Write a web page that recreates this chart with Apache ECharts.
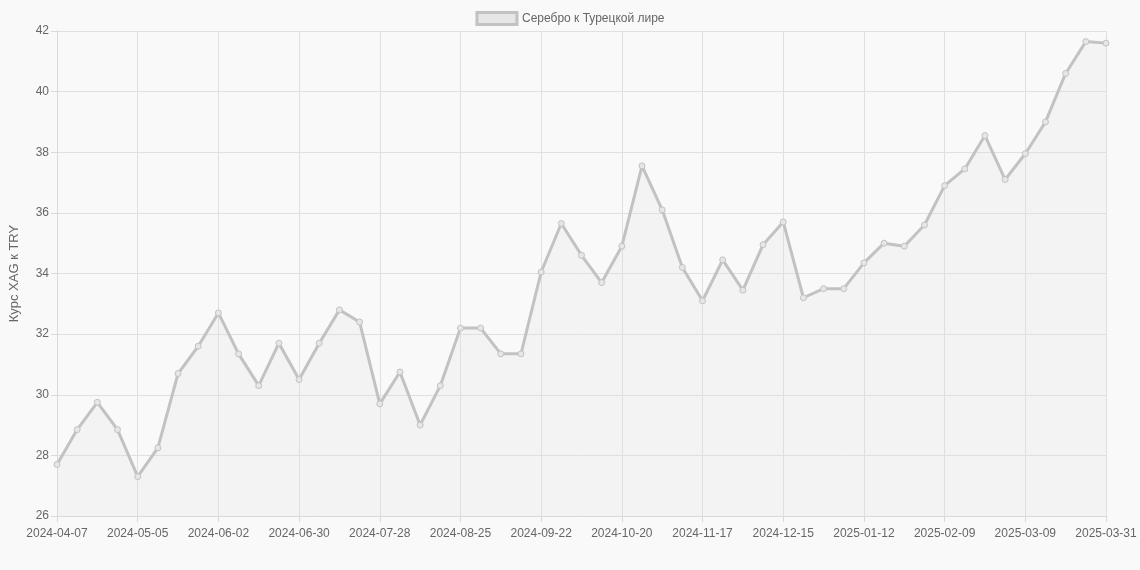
<!DOCTYPE html>
<html><head><meta charset="utf-8">
<script src="https://cdn.jsdelivr.net/npm/echarts@6/dist/echarts.min.js"></script>
<style>html,body{margin:0;background:#f9f9f9}#c{width:1140px;height:570px}</style>
</head><body><div id="c"></div>
<script>
const values=[27.7,28.85,29.75,28.85,27.3,28.25,30.7,31.6,32.7,31.35,30.3,31.7,30.5,31.7,32.8,32.4,29.7,30.75,29.0,30.3,32.2,32.2,31.35,31.35,34.05,35.65,34.6,33.7,34.9,37.55,36.1,34.2,33.1,34.45,33.45,34.95,35.7,33.2,33.5,33.5,34.35,35.0,34.9,35.6,36.9,37.45,38.55,37.1,37.95,39.0,40.6,41.65,41.6];
const categories=[];
{const d=new Date(Date.UTC(2024,3,7));for(let i=0;i<52;i++){const t=new Date(d.getTime()+i*7*86400000);categories.push(t.toISOString().slice(0,10));}categories.push('2025-03-31');}
const chart=echarts.init(document.getElementById('c'));
chart.setOption({
 backgroundColor:'#f9f9f9',
 animation:false,
 legend:{top:6,itemWidth:40,itemHeight:12,textStyle:{color:'#666',fontSize:12,fontFamily:'Arial'},data:[{name:'Серебро к Турецкой лире',icon:'rect',itemStyle:{color:'#e6e6e6',borderColor:'#c2c2c2',borderWidth:3}}]},
 grid:{left:52,right:34,top:31,bottom:54},
 xAxis:{type:'category',data:categories,boundaryGap:false,
  axisLine:{lineStyle:{color:'#d9d9d9'}},axisTick:{show:true,interval:3,length:6,lineStyle:{color:'#d9d9d9'}},
  axisLabel:{interval:3,color:'#666',fontSize:12,fontFamily:'Arial',margin:12},
  splitLine:{show:true,interval:3,lineStyle:{color:'#e0e0e0'}}},
 yAxis:{type:'value',min:26,max:42,interval:2,name:'Курс XAG к TRY',nameLocation:'middle',nameGap:36,
  nameTextStyle:{color:'#666',fontSize:13,fontFamily:'Arial'},
  axisLine:{show:true,lineStyle:{color:'#d9d9d9'}},axisTick:{show:true,length:6,lineStyle:{color:'#d9d9d9'}},
  axisLabel:{color:'#666',fontSize:12,fontFamily:'Arial'},splitLine:{lineStyle:{color:'#e0e0e0'}}},
 series:[{name:'Серебро к Турецкой лире',type:'line',data:values,symbol:'circle',symbolSize:6,
  lineStyle:{color:'#c2c2c2',width:3},itemStyle:{color:'#e6e6e6',borderColor:'#c2c2c2',borderWidth:1},
  areaStyle:{color:'rgba(220,220,220,0.3)'}}]
});
</script></body></html>
